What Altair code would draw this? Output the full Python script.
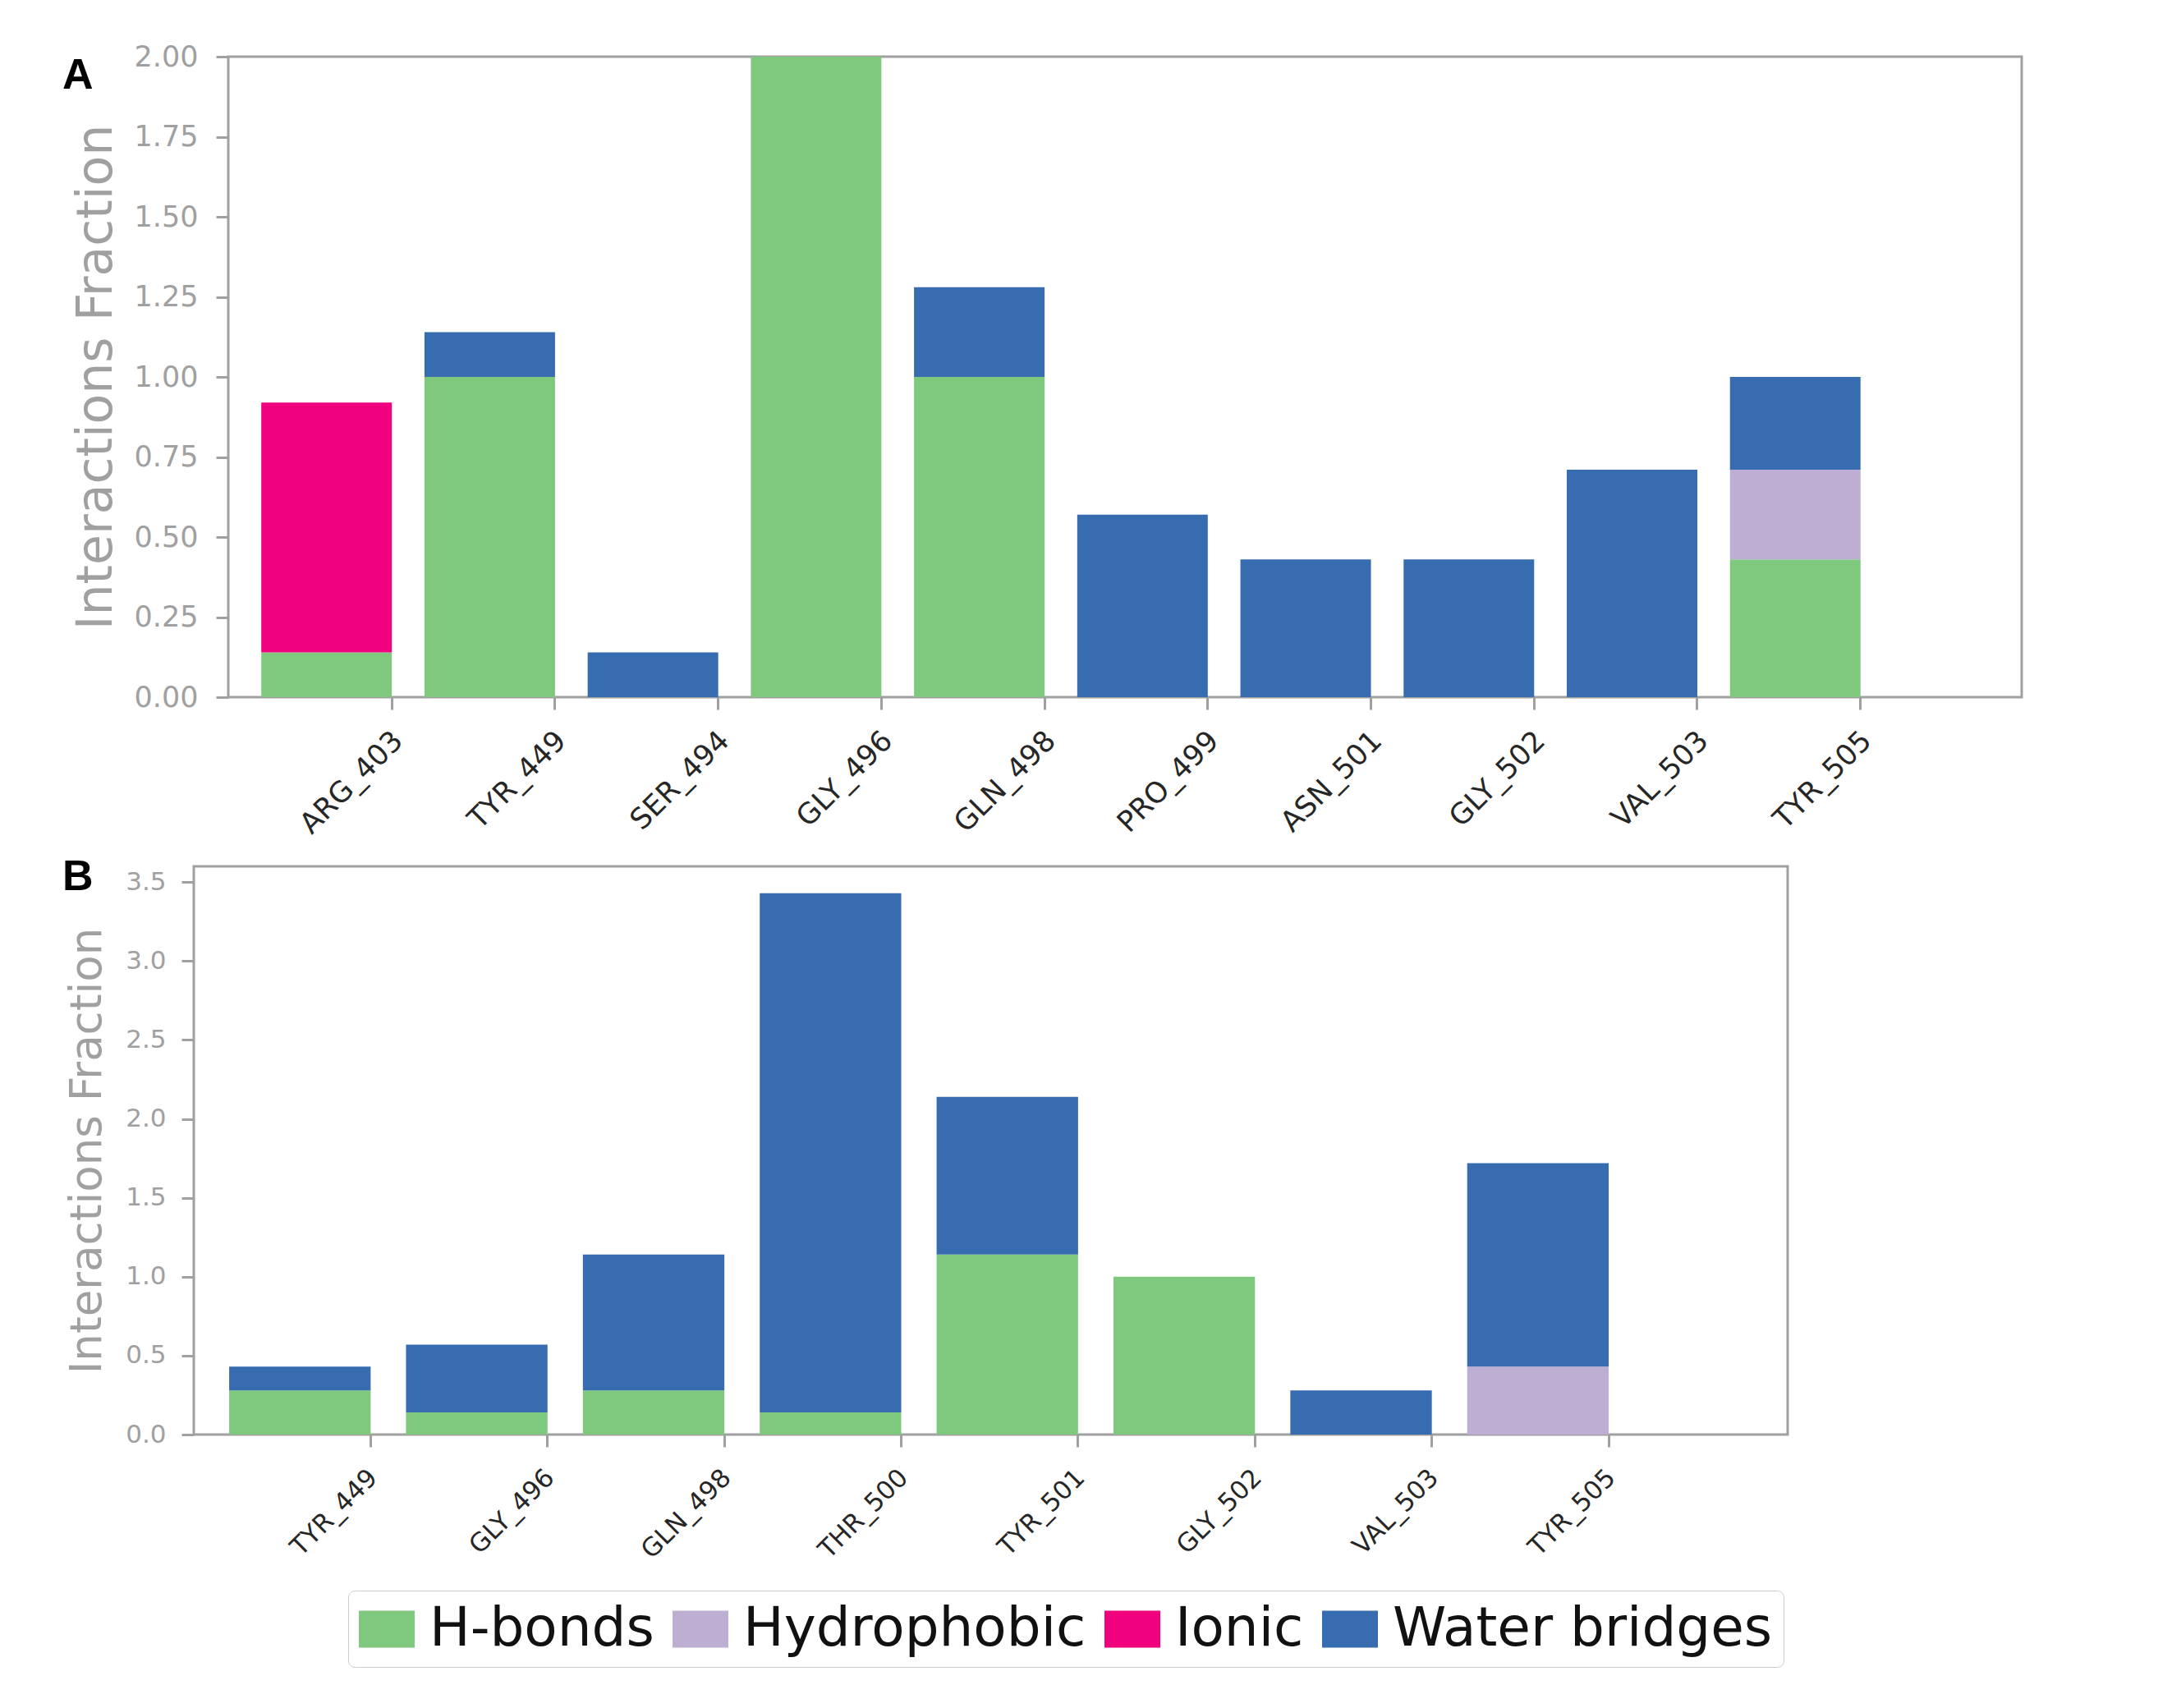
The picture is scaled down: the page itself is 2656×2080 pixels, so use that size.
import altair as alt
import pandas as pd

TYPES = ["H-bonds", "Hydrophobic", "Ionic", "Water bridges"]
COLORS = ["#7fc97f", "#beaed4", "#f0027f", "#386cb0"]

# Panel A
A_res = ["ARG_403", "TYR_449", "SER_494", "GLY_496", "GLN_498",
         "PRO_499", "ASN_501", "GLY_502", "VAL_503", "TYR_505"]
A_hbonds = [0.14, 1.00, 0.00, 2.00, 1.00, 0.00, 0.00, 0.00, 0.00, 0.43]
A_hydro = [0.00, 0.00, 0.00, 0.00, 0.00, 0.00, 0.00, 0.00, 0.00, 0.28]
A_ionic = [0.78, 0.00, 0.00, 0.00, 0.00, 0.00, 0.00, 0.00, 0.00, 0.00]
A_water = [0.00, 0.14, 0.14, 0.00, 0.28, 0.57, 0.43, 0.43, 0.71, 0.29]
A_ticks = [0, 0.25, 0.5, 0.75, 1.0, 1.25, 1.5, 1.75, 2.0]

# Panel B
B_res = ["TYR_449", "GLY_496", "GLN_498", "THR_500",
         "TYR_501", "GLY_502", "VAL_503", "TYR_505"]
B_hbonds = [0.28, 0.14, 0.28, 0.14, 1.14, 1.00, 0.00, 0.00]
B_hydro = [0.00, 0.00, 0.00, 0.00, 0.00, 0.00, 0.00, 0.43]
B_ionic = [0.00, 0.00, 0.00, 0.00, 0.00, 0.00, 0.00, 0.00]
B_water = [0.15, 0.43, 0.86, 3.29, 1.00, 0.00, 0.28, 1.29]
B_ticks = [0, 0.5, 1.0, 1.5, 2.0, 2.5, 3.0, 3.5]

GRAY = "#a0a0a0"
PAD_LEFT = 56
PAD_TOP = 42


def to_long(res, series):
    rows = []
    for i, r in enumerate(res):
        for k, (t, vals) in enumerate(zip(TYPES, series)):
            if vals[i] > 0:
                rows.append({"residue": r, "type": t, "value": vals[i], "ord": k})
    return pd.DataFrame(rows)


legend = alt.Legend(
    orient="none", legendX=355, legendY=1868,
    direction="horizontal", columns=4, title=None,
    symbolType="M-1,-0.66H1V0.66H-1Z", symbolSize=4624,
    symbolStrokeWidth=0, symbolOpacity=1,
    labelFontSize=66, labelFont="DejaVu Sans", labelColor="#111111",
    labelLimit=0, columnPadding=22, labelOffset=18, padding=13,
    strokeColor="#cccccc", fillColor="white", cornerRadius=8,
)


def panel(df, res, width, height, ymax, yvals, fmt, po, align,
          fs_tick, fs_title, lab_pad, title_pad, xlab_off, xlab_pad,
          letter, lx, ly):
    bars = alt.Chart(df).mark_bar().encode(
        x=alt.X("residue:N", sort=res,
                scale=alt.Scale(paddingInner=0.2, paddingOuter=po, align=align),
                axis=alt.Axis(title=None, labelAngle=-45, bandPosition=1,
                              labelFontSize=fs_tick, labelColor="#262626",
                              labelAlign="right", labelBaseline="top",
                              labelOffset=xlab_off, labelPadding=xlab_pad,
                              tickColor=GRAY, tickWidth=3,
                              tickSize=15, domain=False, grid=False)),
        y=alt.Y("value:Q", stack="zero",
                scale=alt.Scale(domain=[0, ymax], nice=False),
                axis=alt.Axis(values=yvals, format=fmt,
                              title="Interactions Fraction",
                              titleFontSize=fs_title, titleColor=GRAY,
                              titleFontWeight="normal", titlePadding=title_pad,
                              labelFontSize=fs_tick, labelColor=GRAY,
                              labelPadding=lab_pad, tickColor=GRAY, tickWidth=3,
                              tickSize=15, domain=False, grid=False)),
        color=alt.Color("type:N", scale=alt.Scale(domain=TYPES, range=COLORS),
                        legend=legend),
        order=alt.Order("ord:Q"),
    )
    lab = alt.Chart(pd.DataFrame({"t": [letter]})).mark_text(
        align="left", baseline="top", fontSize=52, fontWeight="bold",
        font="Liberation Sans", color="black",
    ).encode(x=alt.value(lx), y=alt.value(ly), text="t:N")
    return alt.layer(bars, lab).properties(width=width, height=height)


def spacer():
    return alt.Chart(pd.DataFrame({"s": [0]})).mark_point(opacity=0).encode(
        x=alt.value(0), y=alt.value(0)
    ).properties(width=1, height=1, view=alt.ViewBackground(stroke="transparent"))


dfA = to_long(A_res, [A_hbonds, A_hydro, A_ionic, A_water])
dfB = to_long(B_res, [B_hbonds, B_hydro, B_ionic, B_water])

pA = panel(dfA, A_res, 2184, 780, 2.0, A_ticks, ".2f", 0.595, 0.17,
           35, 60, 22, 15, 75, 20, "A", -202, -2)
pB = panel(dfB, B_res, 1941, 692, 3.6, B_ticks, ".1f", 0.606, 0.165,
           31, 53, 19, 19, 79, 22, "B", -160, -12)

rowA = alt.hconcat(spacer(), pA, spacing=0)
rowB = alt.hconcat(spacer(), pB, spacing=0)

chart = alt.vconcat(rowA, rowB, spacing=16).properties(
    padding={"left": PAD_LEFT, "top": PAD_TOP, "right": 5, "bottom": 5}
).resolve_scale(color="shared").configure(
    font="DejaVu Sans"
).configure_view(stroke=GRAY, strokeWidth=3)

chart.save("out.html", embed_options={"renderer": "svg", "actions": False})
